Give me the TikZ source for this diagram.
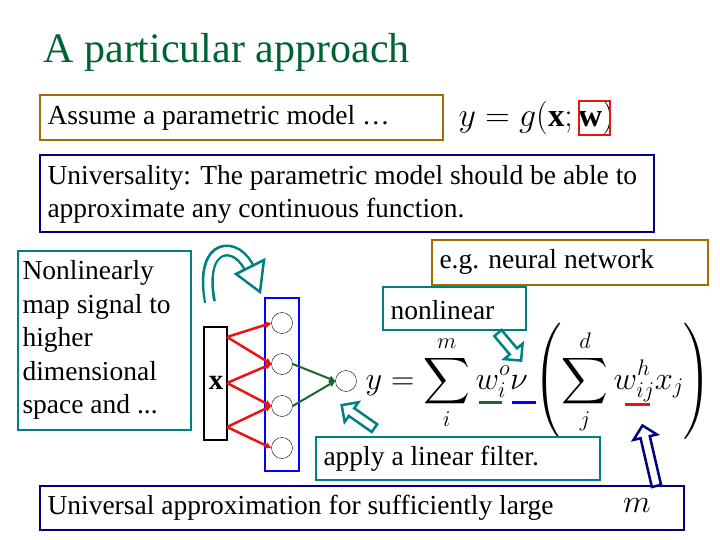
\documentclass[tikz,border=0pt]{standalone}
\usepackage{amsmath}
\usepackage{graphicx}
\usepackage{fontspec}
\setmainfont{Liberation Serif}
\usetikzlibrary{shapes.arrows,arrows.meta}
\definecolor{titlegreen}{RGB}{0,100,50}
\definecolor{boxbrown}{RGB}{160,110,0}
\definecolor{boxteal}{RGB}{0,128,128}
\definecolor{boxnavy}{RGB}{0,0,128}
\definecolor{netred}{RGB}{235,20,20}
\definecolor{netgreen}{RGB}{30,100,50}
\tikzset{
	tbox/.style={draw=#1, line width=2.5pt, inner sep=0pt},
	txt/.style={font=\fontsize{27.5}{33.5}\selectfont, anchor=west, align=left},
	unit/.style={circle, draw, thin, minimum size=21pt, inner sep=0pt},
	blockarrow/.style={single arrow, draw=#1, line width=2.5pt, fill=white, minimum height=36pt, minimum width=24pt, single arrow head extend=5pt, inner sep=2pt},
}
\begin{document}
\begin{tikzpicture}[x=1pt,y=-1pt]
	\useasboundingbox (0,0) rectangle (720,540);
	% title
		\node [anchor=west, text=titlegreen, font=\fontsize{42}{46}\selectfont] (title) at (40,52) {A particular approach};
	% model box
		\draw [tbox=boxbrown] (40,95) rectangle (443,140);
		\node [txt] (assume) at (44,118) {Assume a parametric model \dots};
		\node [anchor=west, font=\fontsize{24}{28}\selectfont] (model) at (455,118) {\scalebox{1.36}{$y = g(\mathbf{x};\mathbf{w})$}};
		\draw [draw=netred, line width=2.5pt] (579,101) rectangle (610,135);
	% universality
		\draw [tbox=boxnavy] (40,155) rectangle (654,232);
		\node [txt, font=\fontsize{27.5}{33}\selectfont] (univ) at (44,194) {Universality: The parametric model should be able to\\approximate any continuous function.};
	% nonlinear map
		\draw [tbox=boxteal] (18,251) rectangle (191,430);
		\node [txt] (map) at (19,340) {Nonlinearly\\map signal to\\higher\\dimensional\\space and ...};
	% network
		\draw [line width=2.5pt] (204,327) rectangle (227,440);
		\node [font=\fontsize{24}{28}\selectfont] (x) at (216,383) {\scalebox{1.2}{$\mathbf{x}$}};
		\draw [draw=blue, line width=2.5pt] (265,298) rectangle (299,471);
		\foreach \i/\y in {1/323,2/364,3/406,4/448}
			\node [unit] (h\i) at (282,\y) {};
		\node [unit] (out) at (346,381) {};
		\coordinate (xa) at (227,337);
		\coordinate (xb) at (227,383);
		\coordinate (xc) at (227,427);
		\foreach \s/\t in {xa/h1,xa/h2,xb/h2,xb/h3,xc/h3,xc/h4}
			\draw [netred, line width=2.5pt, -{Triangle[length=6pt,width=6pt]}] (\s) -- (\t.west);
		\draw [netgreen, line width=2pt, -{Triangle[length=6pt,width=6pt]}] (h2.east) -- (out.west);
		\draw [netgreen, line width=2pt, -{Triangle[length=6pt,width=6pt]}] (h3.east) -- (out.west);
	% formula
		\node [anchor=west, font=\fontsize{24}{28}\selectfont] (formula) at (362,381) {\scalebox{1.3}{$\displaystyle y = \sum_i^m w_i^o\nu \left(\sum_j^d w_{ij}^h x_j\vphantom{\int_{\int}^{\int}}\right)$}};
		\draw [netgreen, line width=3pt] (479,402) -- (502,402);
		\draw [blue, line width=3pt] (512,402) -- (536,402);
		\draw [netred, line width=3pt] (625,404) -- (650,404);
	% labels
		\draw [tbox=boxbrown, fill=white] (432,240) rectangle (708,285);
		\node [txt] (eg) at (436,262) {e.g. neural network};
		\draw [tbox=boxteal, fill=white] (383,287) rectangle (526,330);
		\node [txt] (nonlin) at (387,310) {nonlinear};
		\draw [tbox=boxteal, fill=white] (316,437) rectangle (600,480);
		\node [txt] (apply) at (320,459) {apply a linear filter.};
		\draw [tbox=boxnavy, fill=white] (40,486) rectangle (684,530);
		\node [txt] (large) at (44,508) {Universal approximation for sufficiently large};
		\node [font=\fontsize{24}{28}\selectfont] (m) at (637,506) {\scalebox{1.3}{$m$}};
	% block arrows
		\node [blockarrow=boxteal, rotate=-50] (a1) at (508,345) {};
		\node [blockarrow=boxteal, rotate=145, minimum height=40pt] (a2) at (360,418) {};
		\node [blockarrow=boxnavy, rotate=103, minimum height=62pt] (a3) at (650,458) {};
	% curved arrow
		\draw [boxteal, line width=12pt] (210,302) .. controls (198,240) and (238,240) .. (250,270);
		\draw [white, line width=7pt] (210,304) .. controls (198,240) and (238,240) .. (250,270);
		\draw [boxteal, line width=2.5pt, fill=white] (236,274) -- (264,260) -- (260,292) -- cycle;
\end{tikzpicture}
\end{document}
